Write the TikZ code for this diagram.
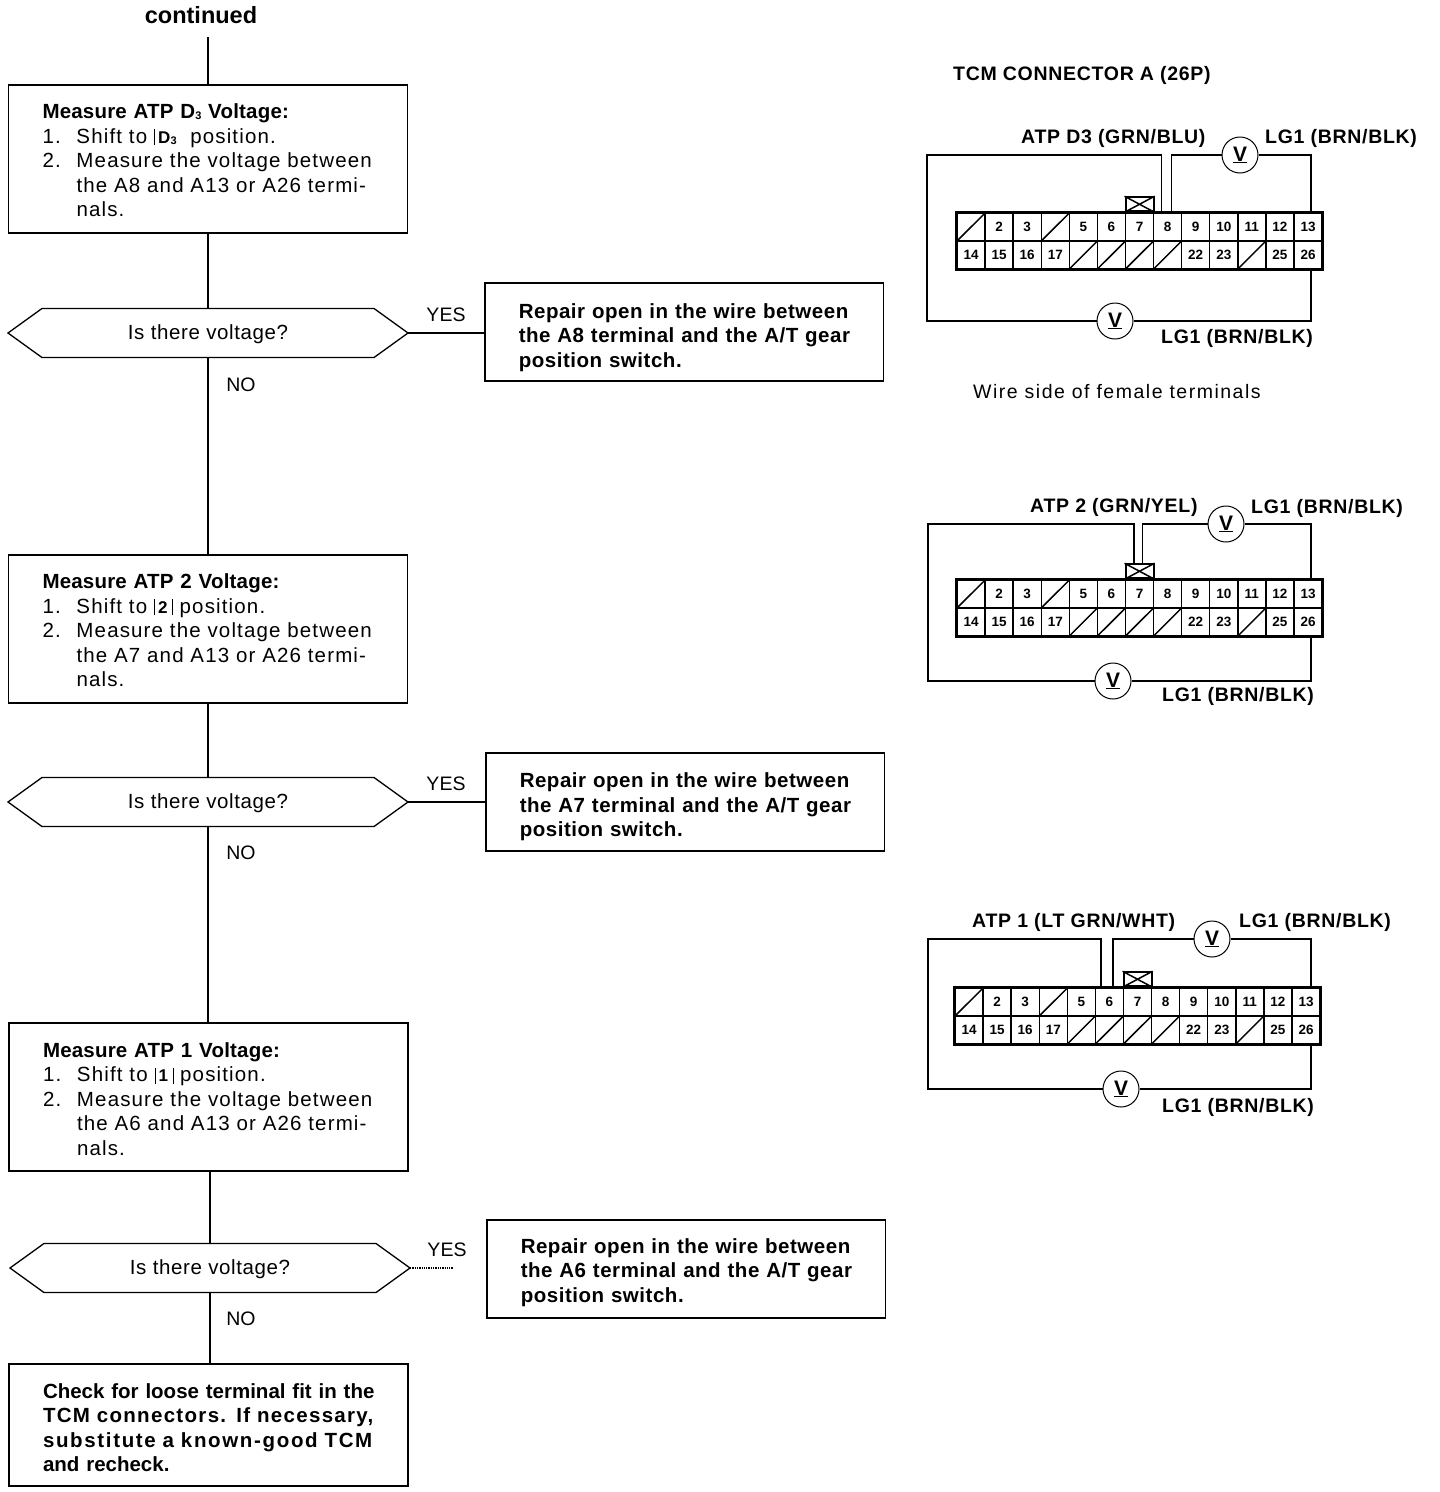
\documentclass[tikz,border=0pt]{standalone}
\usepackage{fontspec}
\setmainfont{Liberation Sans}
\newfontfamily\stepface{Liberation Sans}[LetterSpace=5.6]
\newfontfamily\headface{Liberation Sans}[LetterSpace=1]
\newfontfamily\repairface{Liberation Sans}[LetterSpace=2.6]
\newfontfamily\questionface{Liberation Sans}[LetterSpace=3]
\newfontfamily\wireface{Liberation Sans}[LetterSpace=3.6]
\newfontfamily\sideface{Liberation Sans}[LetterSpace=7.7]
\newfontfamily\looseface{Liberation Sans}[LetterSpace=6.4]
\newfontfamily\looserface{Liberation Sans}[LetterSpace=8.1]
\usetikzlibrary{
arrows.meta,
shapes.symbols
}
\newcommand{\posmark}[1]{\rule[-2pt]{0.8pt}{16pt}\,\textbf{\fontsize{17}{20}\selectfont #1}\,\rule[-2pt]{0.8pt}{16pt}}
\newcommand{\smallthree}{\raisebox{-1pt}{\fontsize{11}{12}\selectfont 3}}
\newcommand{\stepitem}[1]{\makebox[34pt][l]{#1}}
\newcommand{\stepgap}{\hspace*{34pt}}
\newcommand{\headroom}[1]{\rule{0pt}{#1pt}}
\newcommand{\stephead}[1]{{\headface\bfseries #1}}
\tikzset{
  flowbox/.style={
    draw,
    line width=1.3pt,
    anchor=north west,
    outer sep=0pt,
    inner xsep=0pt,
    inner ysep=0pt
  },
  measure/.style={
    flowbox,
    minimum width=399pt,
    minimum height=148pt,
    text width=331pt,
    align=left,
    font=\fontsize{20.5}{24.5}\selectfont\stepface
  },
  repair/.style={
    measure,
    minimum width=398.5pt,
    minimum height=98pt,
    font=\fontsize{20.5}{24.5}\selectfont\repairface\bfseries
  },
  question/.style={
    draw,
    line width=1.3pt,
    shape=signal,
    signal to=west and east,
    signal pointer angle=71.6,
    outer sep=0pt,
    inner sep=0pt,
    minimum width=400pt,
    minimum height=49pt,
    text depth=1pt,
    font=\fontsize{20.5}{24}\selectfont\questionface
  },
  answer/.style={
    font=\fontsize{19.5}{24}\selectfont
  },
  link/.style={
    line width=1.3pt
  },
  wirelabel/.style={
    anchor=west,
    inner sep=0pt,
    font=\fontsize{19.5}{22}\selectfont\wireface\bfseries
  },
  pin/.style={
    draw,
    line width=1.5pt,
    inner sep=0pt,
    minimum width=28.08pt,
    minimum height=28pt
  },
  meter/.style={
    draw,
    circle,
    line width=1pt,
    fill=white,
    inner sep=0pt,
    minimum size=36pt,
    font=\fontsize{21}{22}\selectfont\bfseries
  },
  wire/.style={
    line width=1.3pt
  }
}
% one 26 pin block with its key, #2 and #3 are its top left corner
\newcommand{\tcmblock}[3]{
  \foreach \n in {1,...,26} {
    \pgfmathtruncatemacro{\pinrow}{(\n-1)/13}
    \pgfmathsetmacro{\pinx}{#2+14.04+28.08*(\n-1-13*\pinrow)}
    \pgfmathsetmacro{\piny}{#3+14+28*\pinrow}
    \node[pin] (#1p\n) at (\pinx,\piny) {};
  }
  \foreach \n in {2,3,5,6,7,8,9,10,11,12,13,14,15,16,17,22,23,25,26}
    \node[font=\fontsize{13.5}{14}\selectfont\bfseries] at (#1p\n) {\n};
  \foreach \n in {1,4,18,19,20,21,24}
    \draw[line width=1.5pt] (#1p\n.south west) -- (#1p\n.north east);
  \draw[line width=2pt] (#1p1.north west) rectangle (#1p26.south east);
  \node[draw,line width=2pt,anchor=south,minimum width=28pt,minimum height=14pt,inner sep=0pt] (#1key) at (#1p7.north) {};
  \draw[line width=1.5pt] (#1key.south west) -- (#1key.north east);
  \draw[line width=1.5pt] (#1key.north west) -- (#1key.south east);
}
\begin{document}
\begin{tikzpicture}[x=1pt,y=-1pt]
  \useasboundingbox (0,0) rectangle (1440,1492);

  % flow chart
  \node[font=\fontsize{23.5}{26}\selectfont\bfseries] (continued) at (201,15) {continued};
  \coordinate (start) at (208,37);

  \node[measure] (box1) at (8.5,85) {\headroom{18}\stephead{Measure ATP D\smallthree{} Voltage:}\\
    \stepitem{1.}Shift to \rule[-2pt]{0.8pt}{16pt}\,\textbf{\fontsize{17}{20}\selectfont D\smallthree}\ \ position.\\
    \stepitem{2.}Measure the voltage between\\
    \stepgap the A8 and A13 or A26 termi-\\
    \stepgap nals.};
  \node[question] (ask1) at (208,333) {Is there voltage?};
  \node[repair] (fix1) at (485,283) {\headroom{26}Repair open in the wire between\\the A8 terminal and the A/T gear\\position switch.};

  \node[measure] (box2) at (8.5,555) {\headroom{18}\stephead{Measure ATP 2 Voltage:}\\
    \stepitem{1.}Shift to \posmark{2} position.\\
    \stepitem{2.}Measure the voltage between\\
    \stepgap the A7 and A13 or A26 termi-\\
    \stepgap nals.};
  \node[question] (ask2) at (208,802) {Is there voltage?};
  \node[repair] (fix2) at (486,753) {\headroom{25}Repair open in the wire between\\the A7 terminal and the A/T gear\\position switch.};

  \node[measure] (box3) at (9,1023) {\headroom{19}\stephead{Measure ATP 1 Voltage:}\\
    \stepitem{1.}Shift to \posmark{1} position.\\
    \stepitem{2.}Measure the voltage between\\
    \stepgap the A6 and A13 or A26 termi-\\
    \stepgap nals.};
  \node[question] (ask3) at (210,1268) {Is there voltage?};
  \node[repair] (fix3) at (487,1220) {\headroom{22}Repair open in the wire between\\the A6 terminal and the A/T gear\\position switch.};
  \coordinate (stub) at (453,1268);

  \node[repair,minimum width=399pt,minimum height=122pt,text width=331pt,font=\fontsize{20.5}{24.5}\selectfont\bfseries] (box4) at (9,1364) {\headroom{20}\mbox{Check for loose terminal fit in the}\\
    \mbox{\looseface\bfseries TCM connectors. If necessary,}\\
    \mbox{\looserface\bfseries substitute a known-good TCM}\\
    and recheck.};

  \draw[link] (start) -- (start |- box1.north);
  \draw[link] (box1.south) -- (ask1.north);
  \draw[link] (ask1.south) -- (box2.north);
  \draw[link] (box2.south) -- (ask2.north);
  \draw[link] (ask2.south) -- (ask2.south |- box3.north);
  \draw[link] (ask3.north |- box3.south) -- (ask3.north);
  \draw[link] (ask3.south) -- (ask3.south |- box4.north);
  \draw[link] (ask1.east) -- (fix1.west |- ask1.east);
  \draw[link] (ask2.east) -- (fix2.west |- ask2.east);
  \draw[link,densely dotted] (ask3.east) -- (stub);

  \node[answer] (yes1) at (446,315) {YES};
  \node[answer] (no1) at (241,385) {NO};
  \node[answer] (yes2) at (446,784) {YES};
  \node[answer] (no2) at (241,853) {NO};
  \node[answer] (yes3) at (447,1250) {YES};
  \node[answer] (no3) at (241,1319) {NO};

  % first block, pin 8
  \node[wirelabel] (title) at (953,75) {TCM CONNECTOR A (26P)};
  \tcmblock{a}{957}{213}
  \node[meter] (va1) at (1240,155) {\underline{V}};
  \node[meter] (va2) at (1115,321) {\underline{V}};
  \draw[wire] ([xshift=-6pt]ap8.north) |- (927,155) |- (va2.west);
  \draw[wire] (va2.east) -| ([xshift=3pt]ap26.south);
  \draw[wire] ([xshift=4pt]ap8.north) |- (va1.west);
  \draw[wire] (va1.east) -| ([xshift=3pt]ap13.north);
  \node[wirelabel] (al1) at (1021,138) {ATP D3 (GRN/BLU)};
  \node[wirelabel] (al2) at (1265,138) {LG1 (BRN/BLK)};
  \node[wirelabel] (al3) at (1161,338) {LG1 (BRN/BLK)};
  \node[wirelabel,font=\fontsize{19.5}{22}\selectfont\sideface] (al4) at (973,392) {Wire side of female terminals};

  % second block, pin 7
  \tcmblock{b}{957}{580}
  \node[meter] (vb1) at (1226,524) {\underline{V}};
  \node[meter] (vb2) at (1113,681) {\underline{V}};
  \draw[wire] ([xshift=-5.5pt]bkey.north) |- (928,524) |- (vb2.west);
  \draw[wire] (vb2.east) -| ([xshift=3pt]bp26.south);
  \draw[wire] ([xshift=3pt]bkey.north) |- (vb1.west);
  \draw[wire] (vb1.east) -| ([xshift=3pt]bp13.north);
  \node[wirelabel] (bl1) at (1030,507) {ATP 2 (GRN/YEL)};
  \node[wirelabel] (bl2) at (1251,508) {LG1 (BRN/BLK)};
  \node[wirelabel] (bl3) at (1162,696) {LG1 (BRN/BLK)};

  % third block, pin 6
  \tcmblock{c}{955}{988}
  \node[meter] (vc1) at (1212,939) {\underline{V}};
  \node[meter] (vc2) at (1121,1089) {\underline{V}};
  \draw[wire] ([xshift=-8.5pt]cp6.north) |- (928,939) |- (vc2.west);
  \draw[wire] (vc2.east) -| ([xshift=5pt]cp26.south);
  \draw[wire] ([xshift=3.5pt]cp6.north) |- (vc1.west);
  \draw[wire] (vc1.east) -| ([xshift=5pt]cp13.north);
  \node[wirelabel] (cl1) at (972,922) {ATP 1 (LT GRN/WHT)};
  \node[wirelabel] (cl2) at (1239,922) {LG1 (BRN/BLK)};
  \node[wirelabel] (cl3) at (1162,1107) {LG1 (BRN/BLK)};
\end{tikzpicture}
\end{document}
